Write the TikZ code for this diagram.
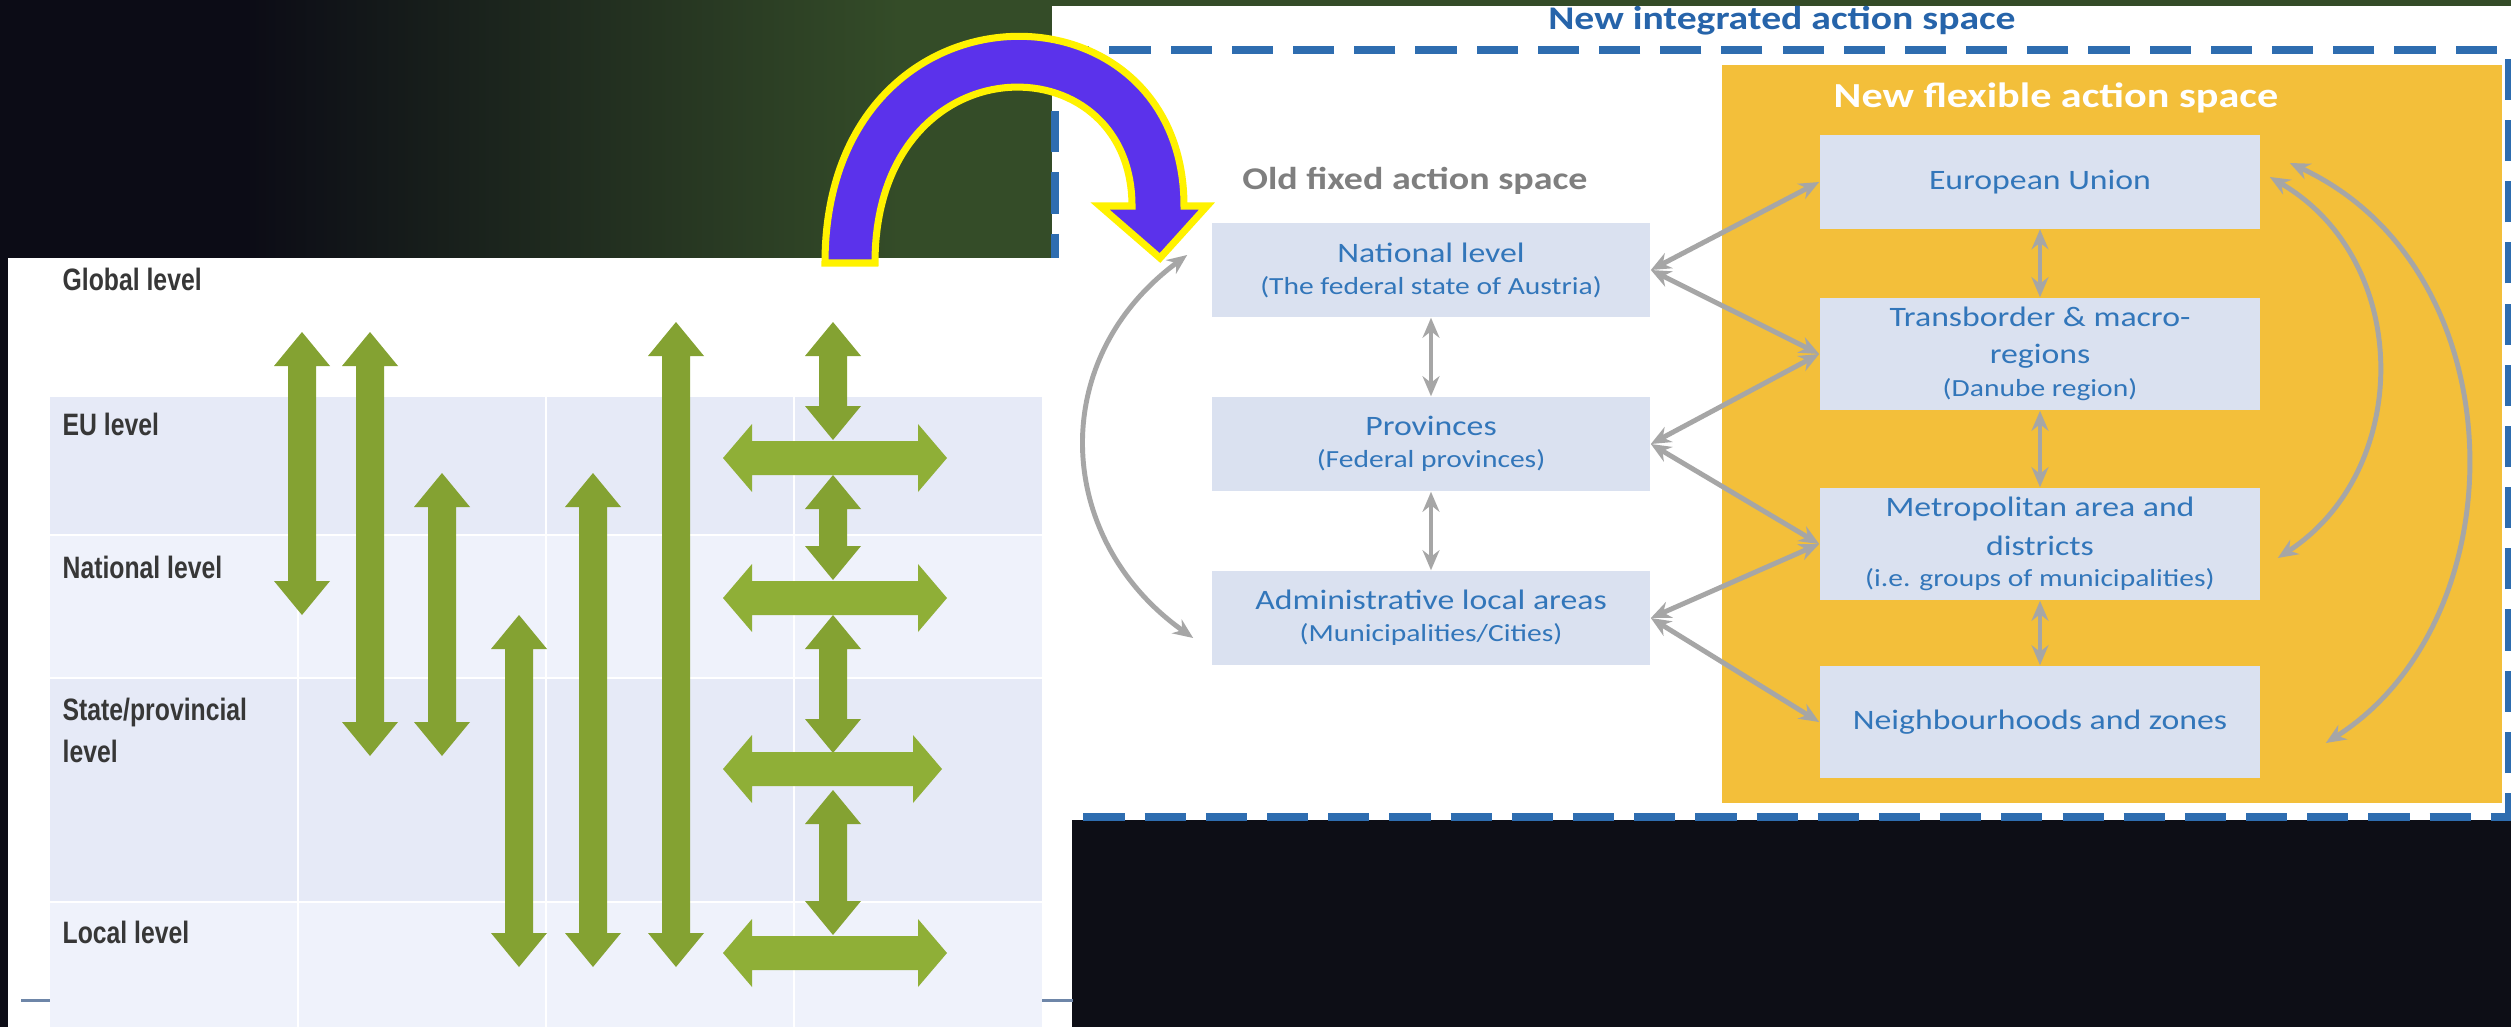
\documentclass[tikz,border=0pt]{standalone}
\usepackage{fontspec}
\setmainfont{Carlito}
\newfontfamily\calibri[FakeStretch=1.2]{Carlito}
\newfontfamily\narrow[FakeStretch=0.8]{Liberation Sans}
\usetikzlibrary{arrows.meta,calc}

\definecolor{bgdark}{RGB}{12,12,22}
\definecolor{bggreen}{RGB}{52,76,40}
\definecolor{inkblack}{RGB}{13,14,22}
\definecolor{vgreen}{RGB}{132,162,50}
\definecolor{hgreen}{RGB}{143,175,55}
\definecolor{rowdark}{RGB}{230,234,247}
\definecolor{rowlight}{RGB}{239,242,251}
\definecolor{footline}{RGB}{110,134,168}
\definecolor{labelgray}{RGB}{55,55,55}
\definecolor{dashblue}{RGB}{46,109,176}
\definecolor{titleblue}{RGB}{38,100,170}
\definecolor{boxfill}{RGB}{218,225,240}
\definecolor{boxtext}{RGB}{50,118,186}
\definecolor{flexyellow}{RGB}{243,191,58}
\definecolor{linkgray}{RGB}{166,166,166}
\definecolor{oldgray}{RGB}{127,127,127}
\definecolor{arcpurple}{RGB}{91,50,235}

% vertical double arrow: x, top tip, bottom tip
\newcommand{\vdarrow}[3]{%
  \fill[vgreen] (#1,#2) -- (#1+28,#2+34) -- (#1+14,#2+34) -- (#1+14,#3-34)
    -- (#1+28,#3-34) -- (#1,#3) -- (#1-28,#3-34) -- (#1-14,#3-34)
    -- (#1-14,#2+34) -- (#1-28,#2+34) -- cycle;}
% horizontal double arrow: y, left tip, right tip
\newcommand{\hdarrow}[3]{%
  \fill[hgreen] (#2,#1) -- (#2+29,#1-34) -- (#2+29,#1-17) -- (#3-29,#1-17)
    -- (#3-29,#1-34) -- (#3,#1) -- (#3-29,#1+34) -- (#3-29,#1+17)
    -- (#2+29,#1+17) -- (#2+29,#1+34) -- cycle;}
\newcommand{\subline}[1]{{\fontsize{7}{9}\selectfont #1}}

\begin{document}
\begin{tikzpicture}[x=0.01cm, y=-0.01cm,
    lvltext/.style={anchor=base west, inner sep=0pt, text=labelgray,
      font=\narrow\bfseries\fontsize{8.8}{12}\selectfont},
    actbox/.style={fill=boxfill, text=boxtext, align=center, inner sep=0pt,
      font=\calibri\fontsize{8}{10.5}\selectfont},
    linkarrow/.style={draw=linkgray, line width=1.4pt,
      {Stealth[length=5.7pt,width=4.8pt]}-{Stealth[length=5.7pt,width=4.8pt]}}]

  \useasboundingbox (0,0) rectangle (2511,1027);

  %Background
  \fill[bgdark] (0,0) rectangle (2511,1027);
  \shade[left color=bgdark, right color=bggreen] (250,0) rectangle (900,1027);
  \fill[bggreen] (899,0) rectangle (2511,1027);

  %Right slide
    \fill[white] (1052,6) rectangle (2511,820);
    \fill[inkblack] (1070,820) rectangle (2511,1027);
    \draw[dashblue, line width=2pt, dash pattern=on 11.7pt off 5.7pt]
      (1055,50) rectangle (2508,817);
    \node[anchor=base, text=titleblue,
      font=\calibri\bfseries\fontsize{9.4}{11}\selectfont] (inttitle)
      at (1782,30) {New integrated action space};

    %New flexible action space
    \fill[flexyellow] (1722,65) rectangle (2502,803);
    \node[anchor=base, text=white,
      font=\calibri\bfseries\fontsize{10}{12}\selectfont] (flextitle)
      at (2056,107) {New flexible action space};

    \node[actbox, minimum width=4.4cm, minimum height=0.93cm] (eu)
      at (2040,182) {European Union};
    \node[actbox, minimum width=4.4cm, minimum height=1.12cm] (trans)
      at (2040,354) {Transborder \& macro-\\regions\\[-1.1pt]\subline{(Danube region)}};
    \node[actbox, minimum width=4.4cm, minimum height=1.12cm] (metro)
      at (2040,544) {Metropolitan area and\\[0.4pt]districts\\[-1.6pt]\subline{(i.e. groups of municipalities)}};
    \node[actbox, minimum width=4.4cm, minimum height=1.12cm] (neigh)
      at (2040,722) {Neighbourhoods and zones};

    %Old fixed action space
    \node[anchor=base, text=oldgray,
      font=\calibri\bfseries\fontsize{9}{11}\selectfont] (oldtitle)
      at (1415,189) {Old fixed action space};
    \node[actbox, minimum width=4.38cm, minimum height=0.94cm] (nat)
      at (1431,270) {National level\\[-1.4pt]\subline{(The federal state of Austria)}};
    \node[actbox, minimum width=4.38cm, minimum height=0.94cm] (prov)
      at (1431,444) {Provinces\\[-1.4pt]\subline{(Federal provinces)}};
    \node[actbox, minimum width=4.38cm, minimum height=0.94cm] (adm)
      at (1431,618) {Administrative local areas\\[-1.4pt]\subline{(Municipalities/Cities)}};

    %Links
    \draw[linkarrow] (nat.south) -- (prov.north);
    \draw[linkarrow] (prov.south) -- (adm.north);
    \draw[linkarrow] (eu.south) -- (trans.north);
    \draw[linkarrow] (trans.south) -- (metro.north);
    \draw[linkarrow] (metro.south) -- (neigh.north);
    \draw[linkarrow] (nat.east) -- (eu.west);
    \draw[linkarrow] (nat.east) -- (trans.west);
    \draw[linkarrow] (prov.east) -- (trans.west);
    \draw[linkarrow] (prov.east) -- (metro.west);
    \draw[linkarrow] (adm.east) -- (metro.west);
    \draw[linkarrow] (adm.east) -- (neigh.west);
    \draw[linkarrow] ($(nat.west)+(-24,-15)$) .. controls (1045,360) and (1055,540)
      .. ($(adm.west)+(-18,20)$);
    \draw[linkarrow] ($(eu.east)+(9,-5)$) .. controls (2413,260) and (2413,470)
      .. ($(metro.east)+(17,14)$);
    \draw[linkarrow] ($(eu.east)+(29,-19)$) .. controls (2520,270) and (2520,620)
      .. ($(neigh.east)+(65,21)$);

  %Left slide
    \fill[white] (8,258) rectangle (1072,1027);
    \draw[footline, line width=0.85pt] (21,1000) -- (1073,1000);
    \fill[rowdark] (50,397) rectangle (1042,535);
    \fill[rowlight] (50,535) rectangle (1042,678);
    \fill[rowdark] (50,678) rectangle (1042,902);
    \fill[rowlight] (50,902) rectangle (1042,1027);
    \draw[white, line width=0.6pt] (50,535) -- (1042,535);
    \draw[white, line width=0.6pt] (50,678) -- (1042,678);
    \draw[white, line width=0.6pt] (50,902) -- (1042,902);
    \draw[white, line width=0.6pt] (298,397) -- (298,1027);
    \draw[white, line width=0.6pt] (546,397) -- (546,1027);
    \draw[white, line width=0.6pt] (794,397) -- (794,1027);

    \node[lvltext] (global) at (62,290) {Global level};
    \node[lvltext] (eulevel) at (62,435) {EU level};
    \node[lvltext] (natlevel) at (62,578) {National level};
    \node[lvltext] (statelevel) at (62,720) {State/provincial};
    \node[lvltext] (statelevelb) at (62,762) {level};
    \node[lvltext] (loclevel) at (62,943) {Local level};

    %Vertical arrows
    \vdarrow{302}{332}{615}
    \vdarrow{370}{332}{756}
    \vdarrow{442}{473}{756}
    \vdarrow{519}{615}{967}
    \vdarrow{593}{473}{967}
    \vdarrow{676}{322}{967}
    \vdarrow{833}{322}{440}
    \vdarrow{833}{475}{580}
    \vdarrow{833}{615}{753}
    \vdarrow{833}{790}{935}

    %Horizontal arrows
    \hdarrow{458}{723}{947}
    \hdarrow{598}{723}{947}
    \hdarrow{769}{723}{942}
    \hdarrow{953}{723}{947}

  %Jump arrow
  \filldraw[fill=arcpurple, draw=yellow, line width=2pt]
    (825,263) .. controls (825,-29) and (1184,-29) .. (1184,206)
    -- (1207,206) -- (1160,258) -- (1100,206) -- (1132,206)
    .. controls (1132,39) and (875,39) .. (875,263) -- cycle;

\end{tikzpicture}
\end{document}
